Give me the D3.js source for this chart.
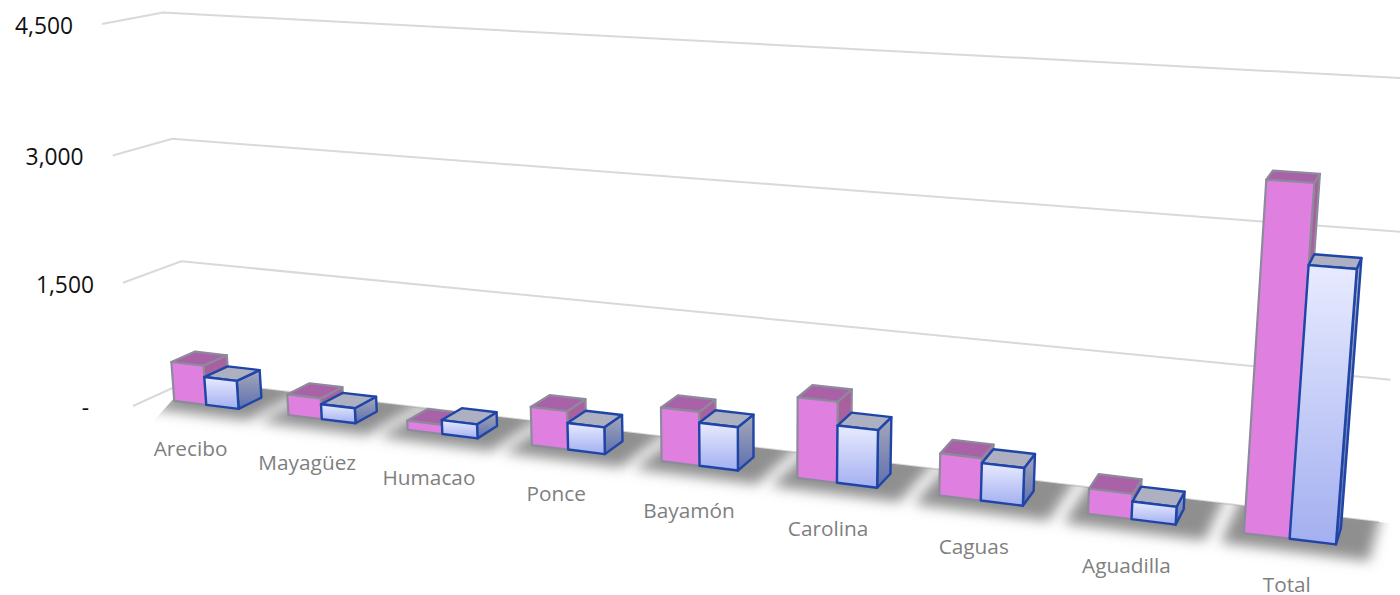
<!DOCTYPE html>
<html><head><meta charset="utf-8">
<script src="https://cdn.jsdelivr.net/npm/d3@7"></script>
<style>
html,body{margin:0;padding:0;background:#fff;overflow:hidden}
text{font-family:"Open Sans","Noto Sans",sans-serif}
</style></head><body>
<svg id="chart" width="1400" height="595"></svg>
<script>
const categories = ["Arecibo","Mayagüez","Humacao","Ponce","Bayamón","Carolina","Caguas","Aguadilla","Total"];
const seriesA = [482,251,108,446,613,900,462,270,3580];
const seriesB = [343,181,166,310,490,638,410,189,2782];
const yTicks = [0,1500,3000,4500];
const yTickLabels = ["-","1,500","3,000","4,500"];

// Scales in normalised box space
const xBand = d3.scaleBand().domain(categories).range([0,1]).paddingInner(0).paddingOuter(0);
const yScale = d3.scaleLinear().domain([0,4500]).range([0,1]);
const zFront = 0.30, zBack = 0.72;
const barStart = 0.213, barWidth = 0.284;   // fractions of a category band

// Perspective camera of the box: images of the origin and unit axes plus their w terms
const O=[133,406], AX=[1369,561], AY=[102,24], AZ=[190,380];
const gX=-0.185, gY=-0.047, gZ=0.041;
function project(X,Y,Z){
  const w=1+gX*X+gY*Y+gZ*Z;
  const f=k=>(O[k]+(AX[k]*(1+gX)-O[k])*X+(AY[k]*(1+gY)-O[k])*Y+(AZ[k]*(1+gZ)-O[k])*Z)/w;
  return [f(0),f(1)];
}
const svg=d3.select("#chart");
const line=d3.line();
const poly=pts=>line(pts)+"Z";
const defs=svg.append("defs");

const blur=defs.append("filter").attr("id","blur").attr("filterUnits","userSpaceOnUse")
  .attr("x",0).attr("y",0).attr("width",1400).attr("height",595);
blur.append("feGaussianBlur").attr("stdDeviation",6.5);

const floorClip=defs.append("clipPath").attr("id","floorClip");
floorClip.append("path").attr("d",poly([project(0,0,1),project(1.05,0,1),[1400,595],[0,595]]));

function grad(id,stops){
  const g=defs.append("linearGradient").attr("id",id).attr("x1",0).attr("y1",0).attr("x2",0).attr("y2",1);
  stops.forEach((c,i)=>g.append("stop").attr("offset",i/(stops.length-1)).attr("stop-color",c));
}
grad("blueFront",["#e8ebff","#a3aff0"]);
grad("blueSide",["#a6a9ba","#5d6fae"]);

// Gridlines
const grid=svg.append("g");
yTicks.forEach(t=>{
  const Y=yScale(t);
  grid.append("path").attr("fill","none").attr("stroke","#d9d9d9").attr("stroke-width",2)
    .attr("d",line([project(0,Y,0),project(0,Y,1),project(1,Y,1)]));
});

// Floor shadows
const shadows=svg.append("g").attr("clip-path","url(#floorClip)");
categories.forEach(c=>{
  const x0=xBand(c), b=xBand.bandwidth();
  shadows.append("path").attr("fill","#8f8f8f").attr("filter","url(#blur)")
    .attr("d",poly([project(x0+b*0.1,0,0.0),project(x0+b*1.0,0,0.0),project(x0+b*1.0,0,1.3),project(x0+b*0.1,0,1.3)]));
});

// Bars
const styleA={stroke:"#8d8a9c",front:"#df80e0",top:"#a962a8",side:"#a8609f",sw:2.2};
const styleB={stroke:"#1f45a8",front:"url(#blueFront)",top:"#adb0c0",side:"url(#blueSide)",sw:2.4};
function bar(g,x0,x1,v,s){
  const Y=yScale(v);
  const P=(X,Yv,Z)=>project(X,Yv,Z);
  const common=sel=>sel.attr("stroke",s.stroke).attr("stroke-width",s.sw).attr("stroke-linejoin","round");
  g.append("path").call(common).attr("fill",s.side)
    .attr("d",poly([P(x1,0,zFront),P(x1,0,zBack),P(x1,Y,zBack),P(x1,Y,zFront)]));
  g.append("path").call(common).attr("fill",s.top)
    .attr("d",poly([P(x0,Y,zFront),P(x1,Y,zFront),P(x1,Y,zBack),P(x0,Y,zBack)]));
  g.append("path").call(common).attr("fill",s.front)
    .attr("d",poly([P(x0,0,zFront),P(x1,0,zFront),P(x1,Y,zFront),P(x0,Y,zFront)]));
}
const bars=svg.append("g");
categories.forEach((c,i)=>{
  const b=xBand.bandwidth(), x0=xBand(c)+b*barStart, w=b*barWidth;
  const g=bars.append("g");
  bar(g,x0,x0+w,seriesA[i],styleA);
  bar(g,x0+w,x0+2*w,seriesB[i],styleB);
});

// Category labels
svg.append("g").selectAll("text").data(categories).join("text")
  .attr("text-anchor","middle").attr("font-size",20.8).attr("fill","#7f7f7f")
  .attr("x",c=>project(xBand(c)+xBand.bandwidth()/2,0,0)[0]+1)
  .attr("y",c=>Math.min(project(xBand(c)+xBand.bandwidth()/2,0,0)[1]+42.5,592))
  .text(c=>c);

// Value labels
svg.append("g").selectAll("text").data(yTicks).join("text")
  .attr("text-anchor","end").attr("font-size",22.8).attr("fill","#111")
  .attr("x",t=>project(0,yScale(t),0)[0]-(t===0?44:29))
  .attr("y",t=>project(0,yScale(t),0)[1]+10)
  .text((t,i)=>yTickLabels[i]);
</script>
</body></html>
